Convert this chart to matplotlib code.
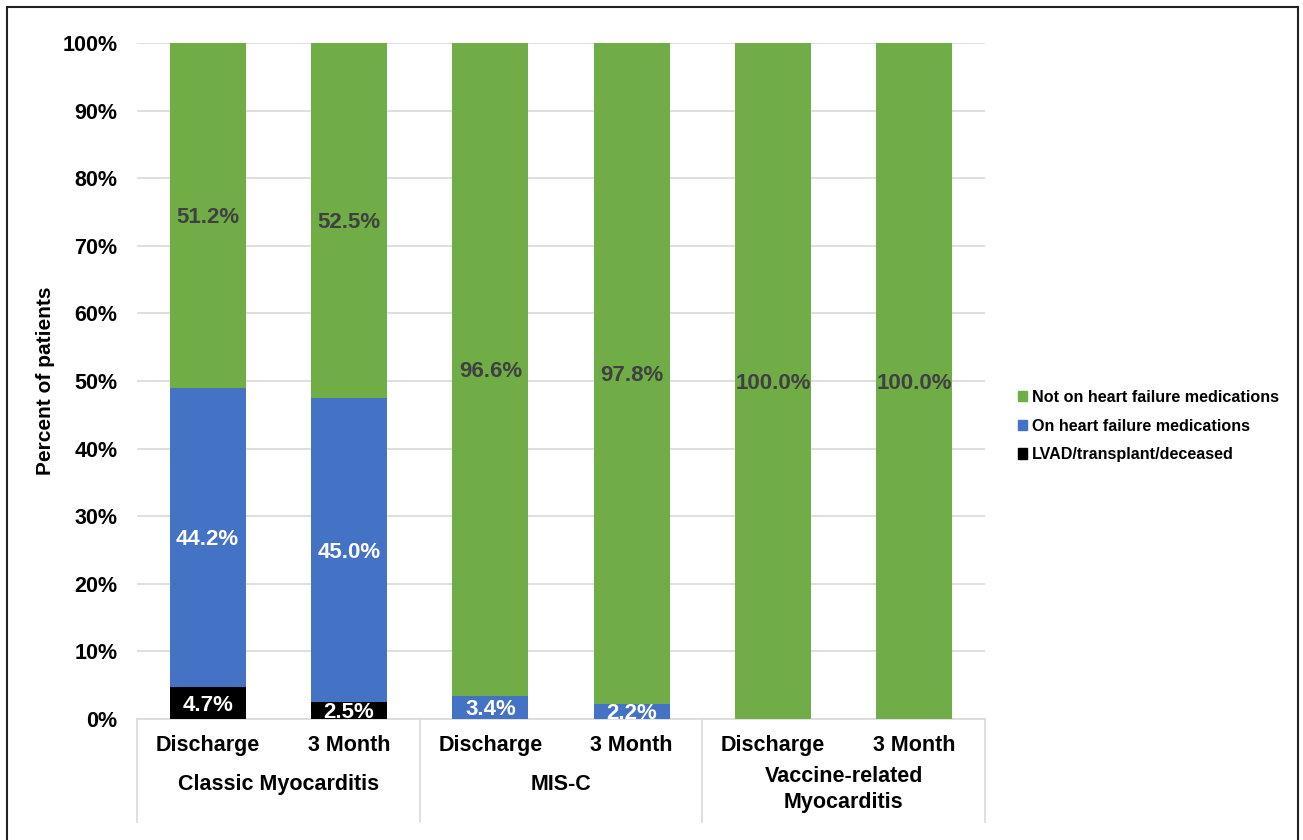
import matplotlib.pyplot as plt
import matplotlib.transforms as mtransforms
from matplotlib.patches import Patch, Rectangle
import numpy as np

groups = ["Classic Myocarditis", "MIS-C", "Vaccine-related\nMyocarditis"]
timepoints = ["Discharge", "3 Month"]
lvad = [4.7, 2.5, 0.0, 0.0, 0.0, 0.0]
on_meds = [44.2, 45.0, 3.4, 2.2, 0.0, 0.0]
not_on = [51.2, 52.5, 96.6, 97.8, 100.0, 100.0]
series_names = ["LVAD/transplant/deceased", "On heart failure medications",
                "Not on heart failure medications"]

GREEN = "#70AD47"
BLUE = "#4472C4"
BLACK = "#000000"
GRID = "#d9d9d9"

plt.rcParams["font.family"] = ["Liberation Sans", "DejaVu Sans"]
plt.rcParams["font.weight"] = "bold"

fig = plt.figure(figsize=(13.03, 8.4), dpi=100)
ax = fig.add_axes([137 / 1303, 1 - 719 / 840, 848 / 1303, 676 / 840])

x = np.arange(len(not_on))
w = 0.54
b1 = np.array(lvad)
b2 = b1 + np.array(on_meds)

ax.bar(x, lvad, w, color=BLACK, zorder=3)
ax.bar(x, on_meds, w, bottom=b1, color=BLUE, zorder=3)
ax.bar(x, not_on, w, bottom=b2, color=GREEN, zorder=3)

for i in range(len(x)):
    for val, bot, col in [(lvad[i], 0, "white"), (on_meds[i], b1[i], "white"),
                          (not_on[i], b2[i], "#404040")]:
        if val > 0:
            ax.text(x[i], bot + val / 2 - 0.3, f"{val:.1f}%", ha="center",
                    va="center", fontsize=16, fontweight="bold", color=col,
                    zorder=4, clip_on=True)

ax.set_xlim(-0.5, 5.5)
ax.set_ylim(0, 100)
ax.set_yticks(np.arange(0, 101, 10))
ax.set_yticklabels([f"{v}%" for v in range(0, 101, 10)], fontsize=15.5,
                   fontweight="bold")
ax.tick_params(axis="y", length=0, pad=14)
ax.set_xticks([])
ax.grid(axis="y", color=GRID, linewidth=1.2, zorder=0)
for s in ["top", "right", "left"]:
    ax.spines[s].set_visible(False)
ax.spines["bottom"].set_color(GRID)
ax.spines["bottom"].set_linewidth(1.2)
ax.set_ylabel("Percent of patients", fontsize=15, fontweight="bold", labelpad=5)

trans = mtransforms.blended_transform_factory(ax.transData, ax.transAxes)
for i in range(len(x)):
    ax.text(x[i], -0.0385, timepoints[i % 2], transform=trans, ha="center",
            va="center", fontsize=15.5, fontweight="bold", clip_on=False)
for g, name in enumerate(groups):
    ax.text(2 * g + 0.5, -0.0976 if "\n" not in name else -0.104, name,
            transform=trans, ha="center", va="center", fontsize=15.5,
            fontweight="bold", linespacing=1.35, clip_on=False)
for xs in [-0.5, 1.5, 3.5, 5.5]:
    ax.plot([xs, xs], [0, -0.152], transform=trans, color=GRID, linewidth=1.2,
            clip_on=False)

handles = [Patch(color=GREEN), Patch(color=BLUE), Patch(color=BLACK)]
fig.legend(handles, series_names[::-1], loc="center left",
           bbox_to_anchor=(1003 / 1303, 1 - 426 / 840), frameon=False,
           fontsize=11.6, handlelength=0.6, handleheight=0.6, handletextpad=0.3,
           labelspacing=0.85)

fig.add_artist(Rectangle((7 / 1303, -0.05), 1291 / 1303, 1.05 - 7 / 840,
                         transform=fig.transFigure, fill=False,
                         edgecolor="#222222", linewidth=1.5))

fig.savefig("out.png", dpi=100)
